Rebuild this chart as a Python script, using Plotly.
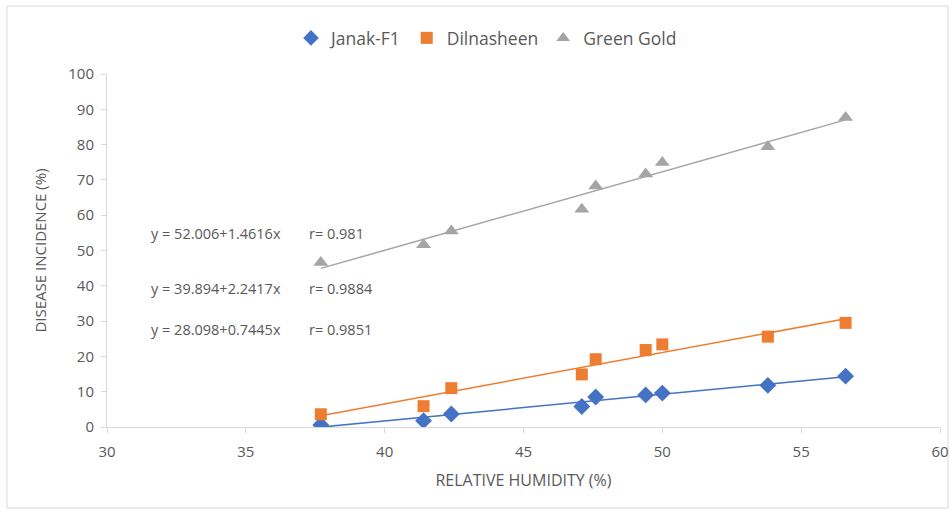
import numpy as np
import plotly.graph_objects as go

# Data
humidity = [37.7, 41.4, 42.4, 47.1, 47.6, 49.4, 50.0, 53.8, 56.6]
janak = [0.6, 1.8, 3.7, 5.8, 8.5, 9.1, 9.6, 11.8, 14.4]
dilnasheen = [3.6, 5.9, 11.0, 14.9, 19.2, 21.8, 23.4, 25.6, 29.5]
green_gold = [46.6, 51.6, 55.5, 61.7, 68.3, 71.7, 74.9, 79.4, 87.7]

series_names = ["Janak-F1", "Dilnasheen", "Green Gold"]
equations = [
    ("y = 52.006+1.4616x", "r= 0.981"),
    ("y = 39.894+2.2417x", "r= 0.9884"),
    ("y = 28.098+0.7445x", "r= 0.9851"),
]
x_ticks = [30, 35, 40, 45, 50, 55, 60]
y_ticks = [0, 10, 20, 30, 40, 50, 60, 70, 80, 90, 100]

colors = ["#4472C4", "#ED7D31", "#A5A5A5"]
symbols = ["diamond", "square", "triangle-up"]
sizes = [13, 12, 13]
FONT = "Open Sans, Noto Sans, sans-serif"
TXT = "#595959"

fig = go.Figure()
xs = np.array(humidity)
for name, ys, c, s, sz in zip(series_names, [janak, dilnasheen, green_gold], colors, symbols, sizes):
    m, b = np.polyfit(xs, np.array(ys), 1)
    xl = np.array([xs.min(), xs.max()])
    fig.add_trace(go.Scatter(x=xl, y=m * xl + b, mode="lines",
                             line=dict(color=c, width=1.5), showlegend=False, hoverinfo="skip"))
for name, ys, c, s, sz in zip(series_names, [janak, dilnasheen, green_gold], colors, symbols, sizes):
    fig.add_trace(go.Scatter(x=humidity, y=ys, mode="markers", name=name,
                             marker=dict(symbol=s, size=sz, color=c, line=dict(width=0))))

ann_y = [54.7, 39.1, 27.5]
for (eq, r), yy in zip(equations, ann_y):
    fig.add_annotation(x=31.5, y=yy, text=eq, showarrow=False, xanchor="left", yanchor="middle",
                       font=dict(family=FONT, size=14.5, color=TXT))
    fig.add_annotation(x=37.2, y=yy, text=r, showarrow=False, xanchor="left", yanchor="middle",
                       font=dict(family=FONT, size=14.5, color=TXT))

L, R, T, B = 107, 12, 74, 88
W, H = 952, 515
pw, ph = W - L - R, H - T - B
# outer chart border
fig.add_shape(type="rect", xref="paper", yref="paper",
              x0=(7 - L) / pw, x1=(948 - L) / pw,
              y0=(H - B - 508) / ph, y1=(H - B - 6) / ph,
              line=dict(color="#D9D9D9", width=1), fillcolor="rgba(0,0,0,0)", layer="below")

axis_common = dict(showgrid=False, zeroline=False, showline=True, linecolor="#D9D9D9", linewidth=1,
                   ticks="outside", ticklen=5, tickcolor="#D9D9D9", automargin=False,
                   tickfont=dict(family=FONT, size=15, color=TXT))
fig.update_xaxes(range=[30, 60], tickvals=x_ticks, ticktext=[str(v) for v in x_ticks],
                 ticklabelstandoff=6,
                 title=dict(text="RELATIVE HUMIDITY (%)", font=dict(family=FONT, size=16, color=TXT), standoff=14),
                 **axis_common)
fig.update_yaxes(range=[0, 100], tickvals=y_ticks, ticklabelstandoff=4,
                 title=dict(text="DISEASE INCIDENCE (%)", font=dict(family=FONT, size=15, color=TXT), standoff=18),
                 **axis_common)

fig.update_layout(
    width=W, height=H, margin=dict(l=L, r=R, t=T, b=B),
    paper_bgcolor="white", plot_bgcolor="white",
    legend=dict(orientation="h", x=(291 - L) / pw, xanchor="left", y=(H - B - 38) / ph, yanchor="middle",
                font=dict(family=FONT, size=17.5, color=TXT), itemsizing="constant"),
    showlegend=True,
)
fig.write_html("out.html")
